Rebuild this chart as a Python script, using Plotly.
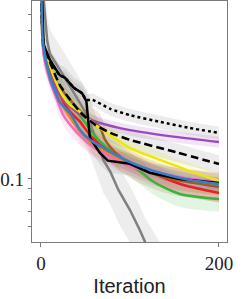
import plotly.graph_objects as go

# ---- data (iteration, value) ----
gray_it = [0, 3, 7, 10, 25, 52, 70, 78, 87, 100, 111, 117, 130, 140]
gray_v = [2.0, 0.70, 0.45, 0.39, 0.309, 0.200, 0.123, 0.108, 0.0888, 0.0714, 0.0575, 0.0504, 0.041, 0.035]

green_it = [0, 3, 10, 21, 38, 49, 58, 74, 94, 115, 125, 137, 156, 179, 200]
green_v = [1.0, 0.406, 0.320, 0.257, 0.212, 0.186, 0.165, 0.140, 0.123, 0.1056, 0.0979, 0.0917, 0.085, 0.082, 0.0805]

red_it = [0, 3, 8, 16, 21, 33, 44, 55, 66, 83, 100, 134, 160, 200]
red_v = [1.0, 0.415, 0.345, 0.278, 0.244, 0.207, 0.186, 0.161, 0.145, 0.130, 0.120, 0.103, 0.0937, 0.0859]

orange_it = [0, 3, 10, 21, 33, 44, 55, 78, 111, 145, 200]
orange_v = [1.0, 0.406, 0.309, 0.236, 0.194, 0.167, 0.148, 0.130, 0.115, 0.101, 0.0927]

brown_it = [0, 3, 16, 33, 49, 66, 72, 83, 100, 137, 200]
brown_v = [1.0, 0.406, 0.293, 0.236, 0.200, 0.176, 0.153, 0.134, 0.119, 0.102, 0.0917]

pink_it = [0, 3, 10, 16, 25, 38, 55, 78, 100, 122, 156, 200]
pink_v = [1.0, 0.385, 0.293, 0.249, 0.200, 0.170, 0.145, 0.127, 0.115, 0.108, 0.102, 0.0968]

purple_it = [0, 3, 10, 21, 33, 47, 66, 100, 151, 200]
purple_v = [1.0, 0.406, 0.309, 0.249, 0.219, 0.198, 0.184, 0.170, 0.158, 0.1495]

yellow_it = [0, 3, 8, 16, 24, 33, 44, 61, 78, 100, 134, 167, 200]
yellow_v = [1.0, 0.429, 0.364, 0.293, 0.249, 0.223, 0.207, 0.180, 0.161, 0.140, 0.123, 0.109, 0.0979]

dashed_it = [0, 3, 10, 21, 33, 44, 61, 78, 100, 151, 200]
dashed_v = [1.0, 0.429, 0.356, 0.278, 0.236, 0.207, 0.180, 0.165, 0.153, 0.134, 0.1177]

dotted_it = [0, 3, 10, 21, 27, 37, 46, 51, 58, 78, 100, 134, 167, 200]
dotted_v = [1.0, 0.429, 0.364, 0.309, 0.300, 0.269, 0.254, 0.236, 0.236, 0.214, 0.200, 0.186, 0.174, 0.165]

black_it = [0, 3, 10, 21, 27, 37, 46, 51, 53, 55, 66, 75, 100, 122, 156, 200]
black_v = [1.0, 0.429, 0.364, 0.309, 0.300, 0.269, 0.254, 0.233, 0.190, 0.156, 0.133, 0.122, 0.118, 0.107, 0.100, 0.0957]

blue_it = [0, 2, 6, 10, 16, 21, 34, 44, 55, 78, 100, 111, 134, 167, 200]
blue_v = [1.0, 0.453, 0.356, 0.300, 0.257, 0.231, 0.200, 0.170, 0.153, 0.134, 0.120, 0.115, 0.107, 0.099, 0.0947]

# relative spread of the shaded band around each curve
spreads = {"gray": 0.30, "green": 0.13, "red": 0.10, "orange": 0.10, "brown": 0.15,
           "pink": 0.10, "purple": 0.06, "yellow": 0.09, "dashed": 0.10,
           "dotted": 0.07, "black": 0.12, "blue": 0.07}

x_ticks = [0, 200]
y_ticks = [0.06, 0.07, 0.08, 0.09, 0.1, 0.2, 0.3, 0.4, 0.5, 0.6]
y_ticktext = ["", "", "", "", "0.1", "", "", "", "", ""]

series = [
    ("gray", gray_it, gray_v, (128, 128, 128), "solid", "linear"),
    ("green", green_it, green_v, (60, 178, 60), "solid", "spline"),
    ("red", red_it, red_v, (235, 30, 35), "solid", "spline"),
    ("orange", orange_it, orange_v, (255, 127, 14), "solid", "spline"),
    ("brown", brown_it, brown_v, (160, 90, 45), "solid", "spline"),
    ("pink", pink_it, pink_v, (240, 110, 190), "solid", "spline"),
    ("purple", purple_it, purple_v, (155, 75, 185), "solid", "spline"),
    ("yellow", yellow_it, yellow_v, (238, 232, 0), "solid", "spline"),
    ("dashed", dashed_it, dashed_v, (0, 0, 0), "8px,4px", "spline"),
    ("dotted", dotted_it, dotted_v, (0, 0, 0), "3px,3px", "spline"),
    ("black", black_it, black_v, (0, 0, 0), "solid", "linear"),
    ("blue", blue_it, blue_v, (55, 128, 196), "solid", "spline"),
]

fig = go.Figure()

for name, xs, ys, rgb, dash, shape in series:
    s = spreads[name]
    band_rgb = (128, 128, 128) if rgb == (0, 0, 0) else rgb
    alpha = 0.15 if name != "gray" else 0.14
    up = [v * (1 + s) for v in ys]
    lo = [v * (1 - s) for v in ys]
    fig.add_trace(go.Scatter(x=xs, y=up, mode="lines", line=dict(width=0, shape=shape),
                             showlegend=False, hoverinfo="skip"))
    fig.add_trace(go.Scatter(x=xs, y=lo, mode="lines", line=dict(width=0, shape=shape),
                             fill="tonexty",
                             fillcolor="rgba(%d,%d,%d,%.2f)" % (band_rgb + (alpha,)),
                             showlegend=False, hoverinfo="skip"))

for name, xs, ys, rgb, dash, shape in series:
    fig.add_trace(go.Scatter(x=xs, y=ys, mode="lines",
                             line=dict(color="rgb(%d,%d,%d)" % rgb, width=2.5, dash=dash,
                                       shape=shape, smoothing=0.6),
                             showlegend=False))

axis_col = "#7a7a7a"
fig.update_layout(
    width=241, height=299,
    margin=dict(l=32, r=14, t=1, b=57),
    plot_bgcolor="white", paper_bgcolor="white",
    showlegend=False,
    xaxis=dict(range=[-10.1, 209], tickvals=x_ticks, ticktext=["0", "200"],
               showgrid=False, zeroline=False, showline=True, mirror=True,
               linecolor=axis_col, linewidth=1.2, ticks="outside", ticklen=4,
               tickcolor=axis_col, tickfont=dict(family="Liberation Serif", size=19, color="#222"),
               title=dict(text="Iteration", standoff=6,
                          font=dict(family="Liberation Sans", size=20, color="#222"))),
    yaxis=dict(type="log", range=[-1.2972, -0.1604], tickvals=y_ticks, ticktext=y_ticktext,
               showgrid=False, zeroline=False, showline=True, mirror=True,
               linecolor=axis_col, linewidth=1.2, ticks="outside", ticklen=3,
               tickcolor=axis_col, tickfont=dict(family="Liberation Serif", size=19, color="#222")),
)

fig.write_html("out.html", config={"displayModeBar": False},
               post_script="document.body.style.margin='0';document.body.style.overflow='hidden';")
